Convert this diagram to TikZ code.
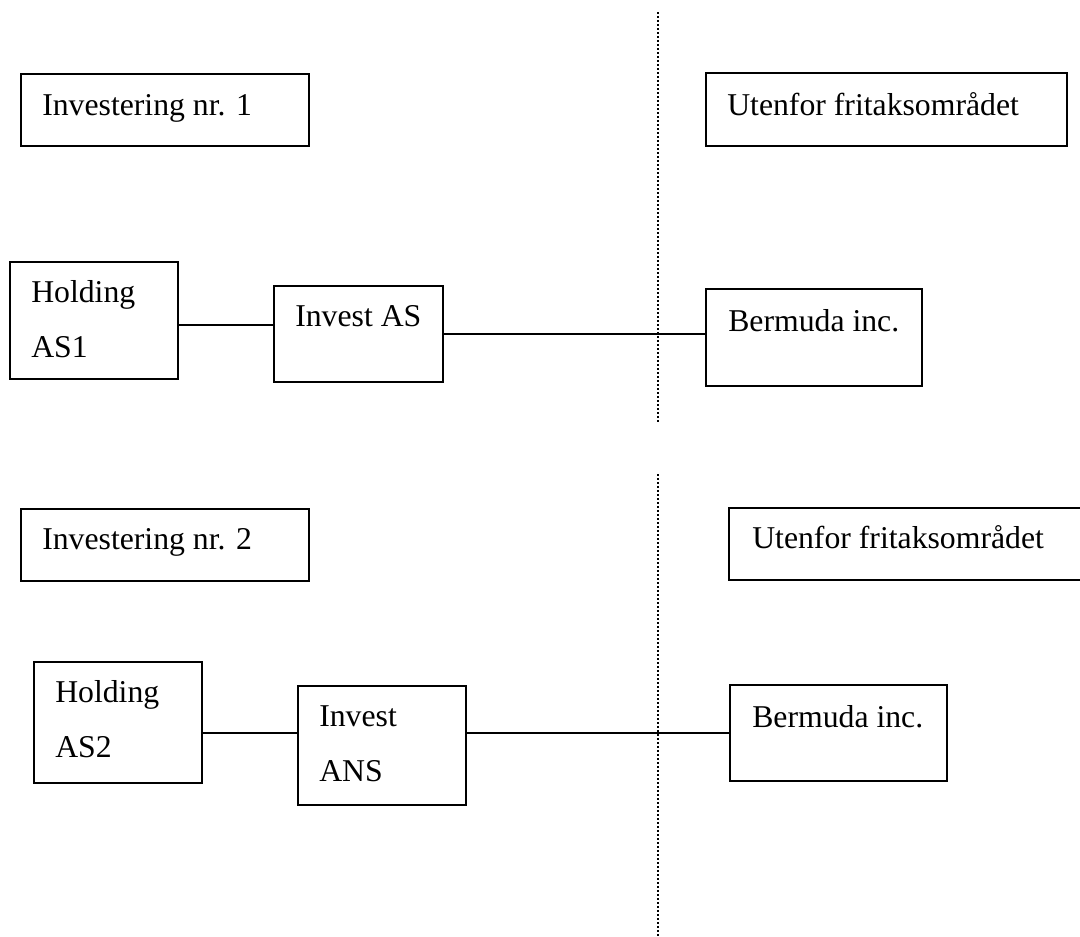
\documentclass[tikz,border=0pt]{standalone}
\usepackage{fontspec}
\setmainfont{Liberation Serif}
\begin{document}
\begin{tikzpicture}[x=0.75pt,y=-0.75pt,
  box/.style={draw=black, line width=1.1pt, rectangle, inner sep=0pt, outer sep=0pt},
  txt/.style={anchor=base west, inner sep=0pt, font=\fontsize{23.8pt}{28pt}\selectfont},
  conn/.style={draw=black, line width=1.1pt},
  divider/.style={draw=black, line width=1.4pt, dash pattern=on 1.4pt off 1.6pt}]
\useasboundingbox (0,0) rectangle (1080,936);
% top section
\node[box, minimum width=216pt, minimum height=54pt] (inv1) at (165,110) {};
\node[txt] (inv1t) at (42,115) {Investering nr. 1};
\node[box, minimum width=270.75pt, minimum height=54.75pt] (ut1) at (886.5,109.5) {};
\node[txt] (ut1t) at (727,115) {Utenfor fritaksområdet};
\node[box, minimum width=126pt, minimum height=87.75pt] (h1) at (94,320.5) {};
\node[txt] (h1a) at (31,302) {Holding};
\node[txt] (h1b) at (31,357) {AS1};
\node[box, minimum width=126.75pt, minimum height=72pt] (ias) at (358.5,334) {};
\node[txt] (iast) at (295,326) {Invest AS};
\node[box, minimum width=162pt, minimum height=72.75pt] (b1) at (814,337.5) {};
\node[txt] (b1t) at (728,331) {Bermuda inc.};
\coordinate (l1) at (0,325);
\coordinate (l2) at (0,334);
\draw[conn] (h1.east |- l1) -- (ias.west |- l1);
\draw[conn] (ias.east |- l2) -- (b1.west |- l2);
\coordinate (d1a) at (658,12);
\coordinate (d1b) at (658,423);
\draw[divider] (d1a) -- (d1b);
% bottom section
\node[box, minimum width=216pt, minimum height=54pt] (inv2) at (165,545) {};
\node[txt] (inv2t) at (42,549) {Investering nr. 2};
\node[box, minimum width=267pt, minimum height=54pt] (ut2) at (907,544) {};
\node[txt] (ut2t) at (752,548) {Utenfor fritaksområdet};
\node[box, minimum width=126pt, minimum height=90.75pt] (h2) at (118,722.5) {};
\node[txt] (h2a) at (55,702) {Holding};
\node[txt] (h2b) at (55,757) {AS2};
\node[box, minimum width=126pt, minimum height=89.25pt] (ians) at (382,745.5) {};
\node[txt] (iansa) at (319,726) {Invest};
\node[txt] (iansb) at (319,781) {ANS};
\node[box, minimum width=162.75pt, minimum height=72pt] (b2) at (838.5,733) {};
\node[txt] (b2t) at (752,727) {Bermuda inc.};
\coordinate (l3) at (0,733);
\draw[conn] (h2.east |- l3) -- (ians.west |- l3);
\draw[conn] (ians.east |- l3) -- (b2.west |- l3);
\coordinate (d2a) at (658,474);
\coordinate (d2b) at (658,936);
\draw[divider] (d2a) -- (d2b);
\end{tikzpicture}
\end{document}
